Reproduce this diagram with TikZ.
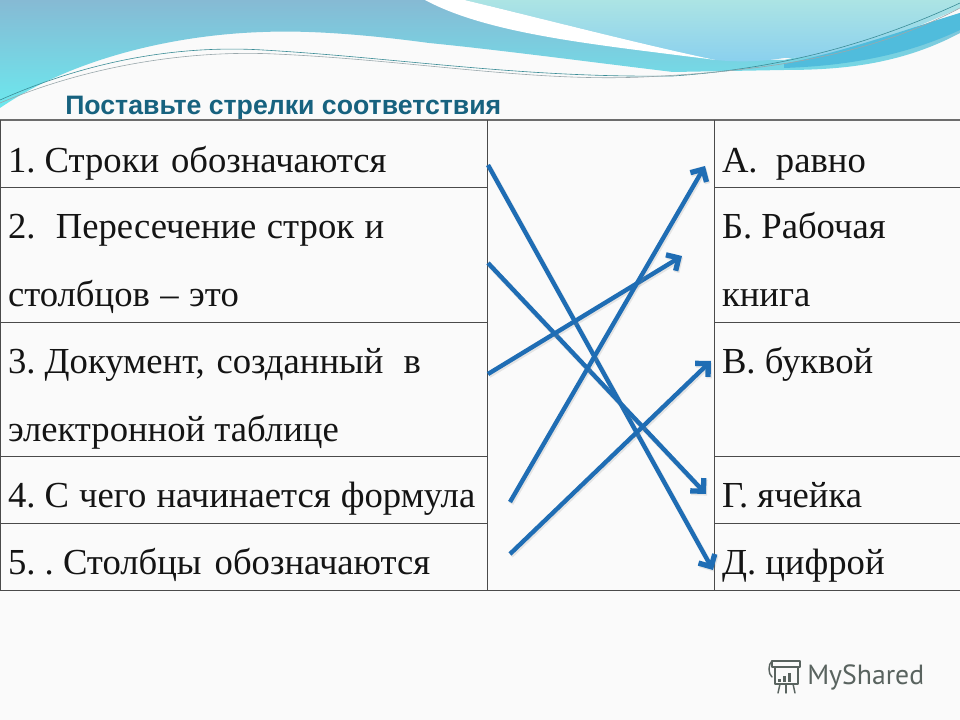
\documentclass[tikz,border=0pt]{standalone}
\usepackage{fontspec}
\setmainfont{Liberation Serif}
\newfontfamily\titlefont{Liberation Sans}
\newfontfamily\logofont{PT Sans}
\usetikzlibrary{arrows.meta}
\definecolor{arrowblue}{HTML}{1F6DB4}
\definecolor{titleteal}{HTML}{17627F}
\definecolor{rulegrey}{HTML}{4A4A4A}
\definecolor{logogrey}{HTML}{59635F}
\definecolor{tailblue}{HTML}{50BCDC}
\definecolor{waveteal}{HTML}{3A8C96}
\definecolor{wavegrey}{HTML}{9AA8AC}
\frenchspacing
\tikzset{
  cell/.style={anchor=base west,inner sep=0pt,outer sep=0pt,font=\fontsize{27.5}{28}\selectfont,text=black!92},
  rowrule/.style={draw=rulegrey,line width=0.7pt},
  matcharrow/.style={draw=arrowblue,line width=3.3pt,
    -{Straight Barb[length=7pt,width=14pt,line width=4pt]},
    preaction={draw=black!45,draw opacity=.2,line width=3.7pt,
      transform canvas={xshift=.8pt,yshift=-1.2pt}}},
  thinwave/.style={line width=.45pt},
  logoline/.style={draw=logogrey,line width=1.1pt,line cap=round,line join=round},
}
\begin{document}
\begin{tikzpicture}[x=0.75pt,y=-0.75pt]
\useasboundingbox (0,0) rectangle (960,720);
\fill[white!98!black] (0,0) rectangle (960,720);
% --- header waves
\path[top color={rgb,255:red,134;green,186;blue,212},bottom color={rgb,255:red,108;green,232;blue,238}]
  (0,0) -- (465,0) .. controls (540,18) and (640,44) .. (716,60)
  -- (784,60) .. controls (850,45) and (910,30) .. (960,13) -- (960,33)
  .. controls (900,65) and (840,70) .. (784,70) -- (673,72)
  .. controls (590,62) and (500,50) .. (429,43)
  .. controls (370,35) and (310,30) .. (263,32)
  .. controls (170,35) and (70,60) .. (0,108) -- cycle;
\fill[white] (425,0) .. controls (490,35) and (600,45) .. (716,60)
  .. controls (640,44) and (540,18) .. (465,0) -- cycle;
\path[top color={rgb,255:red,172;green,228;blue,228},bottom color={rgb,255:red,138;green,208;blue,238}]
  (465,0) -- (960,0) -- (960,8) .. controls (900,35) and (840,58) .. (784,58)
  .. controls (760,62) and (735,62) .. (716,60)
  .. controls (640,44) and (540,18) .. (465,0) -- cycle;
\fill[tailblue]
  (784,64) .. controls (850,50) and (910,28) .. (960,13) -- (960,30)
  .. controls (900,58) and (840,66) .. (784,68) -- cycle;
\draw[thinwave,draw=waveteal] (0,100) .. controls (90,60) and (180,45) .. (263,50)
  .. controls (400,58) and (520,78) .. (673,76)
  .. controls (790,68) and (880,40) .. (960,3);
\draw[thinwave,draw=wavegrey] (0,103) .. controls (90,65) and (190,50) .. (275,54)
  .. controls (410,60) and (530,82) .. (643,77)
  .. controls (790,70) and (880,50) .. (960,8);
% --- title
\node[anchor=base west,inner sep=0pt,text=titleteal] (heading) at (65,115)
  {\titlefont\bfseries\fontsize{20}{22}\selectfont Поставьте стрелки соответствия};
% --- table
\draw[draw=gray!85!black,line width=1.3pt] (0,120) -- (960,120);
\draw[rowrule] (0,590) -- (960,590);
\draw[rowrule] (0,120) -- (0,590);
\draw[rowrule] (487,120) -- (487,590);
\draw[rowrule] (714,120) -- (714,590);
\foreach \yy in {187,322,456,523}{
  \draw[rowrule] (0,\yy) -- (487,\yy);
  \draw[rowrule] (714,\yy) -- (960,\yy);
}
% --- left column
\node[cell] (l1)  at (8,172.5) {1. Строки\hspace{2pt} обозначаются};
\node[cell] (l2a) at (8,238.5) {2.\ \ \hspace{1.5pt}Пересечение\ \hspace{1pt}строк\ \hspace{1pt}и};
\node[cell] (l2b) at (8,306.5) {столбцов\hspace{1pt} –\hspace{1pt} это};
\node[cell] (l3a) at (8,373.5) {3. Документ,\ \hspace{2pt}созданный\ \ \hspace{1.5pt}в};
\node[cell] (l3b) at (8,441.5) {электронной таблице};
\node[cell] (l4)  at (8,507.5) {4. С\hspace{.7pt} чего\hspace{.7pt} начинается\hspace{.7pt} формула};
\node[cell] (l5)  at (8,574.5) {5. . Столбцы\hspace{3pt} обозначаются};
% --- right column
\node[cell] (r1)  at (722,172.5) {А.\ \ равно};
\node[cell] (r2a) at (722,238.5) {Б. Рабочая};
\node[cell] (r2b) at (722,306.5) {книга};
\node[cell] (r3)  at (722,373.5) {В. буквой};
\node[cell] (r4)  at (722,507.5) {Г. ячейка};
\node[cell] (r5)  at (722,574.5) {Д. цифрой};
% --- arrow ends
\coordinate (s1) at (488,165);
\coordinate (s2) at (488,263);
\coordinate (s3) at (488,374);
\coordinate (s4) at (510,502);
\coordinate (s5) at (510,554);
\coordinate (e1) at (713,570);
\coordinate (e2) at (706,494);
\coordinate (e3) at (682,256);
\coordinate (e4) at (705,166);
\coordinate (e5) at (711,361);
\draw[matcharrow] (s1) -- (e1);
\draw[matcharrow] (s2) -- (e2);
\draw[matcharrow] (s3) -- (e3);
\draw[matcharrow] (s4) -- (e4);
\draw[matcharrow] (s5) -- (e5);
% --- logo
\draw[logoline] (772,661) -- (800,661) -- (800,667) -- (772,667) -- cycle;
\draw[logoline] (775,667) -- (775,684) -- (798,684) -- (798,667);
\draw[logoline] (772,661) .. controls (768,664) and (768,674) .. (772,677);
\draw[logoline] (780,684) -- (778,693);
\draw[logoline] (786,684) -- (786,693);
\draw[logoline] (793,684) -- (795,693);
\fill[logogrey] (778,679) rectangle (781,682);
\fill[logogrey] (783,676) rectangle (786,682);
\fill[logogrey] (788,673) rectangle (791,682);
\node[anchor=base west,inner sep=0pt,text=logogrey] (logo) at (807,684)
  {\logofont\fontsize{20.8}{22}\selectfont MyShared};
\end{tikzpicture}
\end{document}
